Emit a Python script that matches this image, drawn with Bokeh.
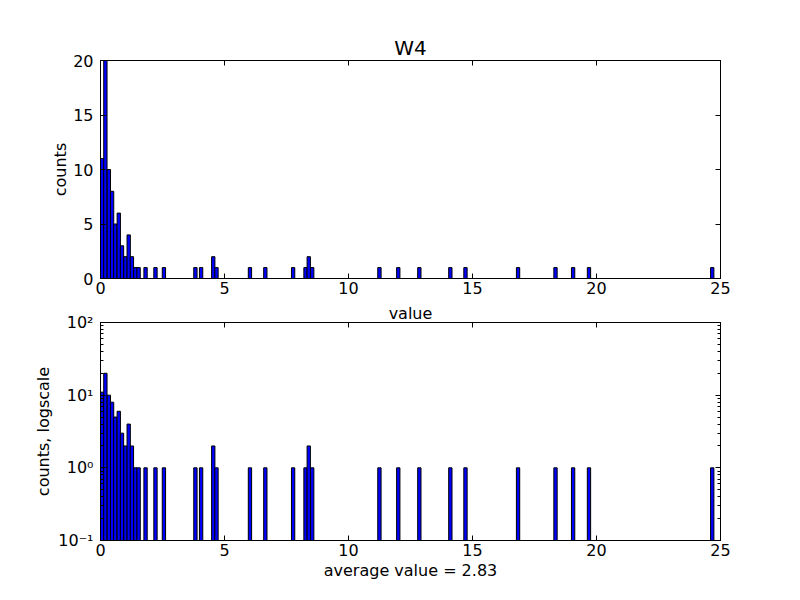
from bokeh.plotting import figure
from bokeh.layouts import column
from bokeh.models import (LinearAxis, LogAxis, FixedTicker, Range1d,
                          ColumnDataSource)
from bokeh.embed import file_html
from bokeh.resources import INLINE

# ---------------- data ----------------
title_text = "W4"
x_label_top = "value"
y_label_top = "counts"
y_label_bottom = "counts, logscale"
x_label_bottom = "average value = 2.83"

bin_left = [0.00, 0.13, 0.27, 0.40, 0.53, 0.67, 0.80, 0.94, 1.07, 1.20, 1.34, 1.47,
            1.75, 2.15, 2.49, 3.76, 3.99, 4.48, 4.61, 5.96, 6.58, 7.70, 8.20, 8.33, 8.47,
            11.18, 11.94, 12.79, 14.04, 14.65, 16.77, 18.28, 18.99, 19.63, 24.60]
counts = [11, 20, 10, 8, 5, 6, 3, 2, 4, 2, 1, 1,
          1, 1, 1, 1, 1, 2, 1, 1, 1, 1, 1, 2, 1,
          1, 1, 1, 1, 1, 1, 1, 1, 1, 1]
bin_width = 0.1337

x_ticks = [0, 5, 10, 15, 20, 25]
lin_ticks = [0, 5, 10, 15, 20]
log_ticks = [0.1, 1, 10, 100]
log_minor = [0.2, 0.3, 0.4, 0.5, 0.6, 0.7, 0.8, 0.9,
             2, 3, 4, 5, 6, 7, 8, 9,
             20, 30, 40, 50, 60, 70, 80, 90]
log_tick_labels = {0.1: "10\u207b\u00b9", 1: "10\u2070", 10: "10\u00b9", 100: "10\u00b2"}

x_min, x_max = 0, 25
lin_min, lin_max = 0, 20
log_min, log_max = 0.1, 100

FONT = "DejaVu Sans"

src = ColumnDataSource(dict(
    left=bin_left,
    right=[b + bin_width for b in bin_left],
    top=counts,
))


def axis_style(ax, labels=True):
    ax.axis_line_color = "black"
    ax.axis_line_width = 1
    ax.major_tick_in = 5
    ax.major_tick_out = 0
    ax.minor_tick_in = 3
    ax.minor_tick_out = 0
    ax.major_tick_line_color = "black"
    ax.minor_tick_line_color = "black"
    ax.major_label_text_font = FONT
    ax.axis_label_text_font = FONT
    ax.axis_label_text_font_size = "16px"
    ax.axis_label_text_font_style = "normal"
    ax.axis_label_text_color = "black"
    if labels:
        ax.major_label_text_color = "black"
        ax.major_label_text_font_size = "16px"
    else:
        # mirror axis: tick marks only
        ax.major_label_text_color = None
        ax.major_label_text_font_size = "1px"
        ax.major_label_standoff = 0


def base_style(p):
    p.outline_line_color = "black"
    p.outline_line_width = 1
    p.xgrid.grid_line_color = None
    p.ygrid.grid_line_color = None
    p.background_fill_color = "white"
    p.border_fill_color = "white"


# ---------------- top: linear ----------------
top = figure(width=800, height=300, x_range=Range1d(x_min, x_max),
             y_range=Range1d(lin_min, lin_max),
             output_backend="svg", toolbar_location=None,
             min_border_left=100, min_border_right=80,
             min_border_top=60, min_border_bottom=22)
base_style(top)
top.title.text = title_text
top.title.align = "center"
top.title.text_font = FONT
top.title.text_font_size = "20px"
top.title.text_font_style = "normal"
top.title.text_color = "black"
top.title.standoff = 2

top.quad(left="left", right="right", bottom=lin_min, top="top", source=src,
         fill_color="#0000ff", line_color="black", line_width=1)

top.xaxis.ticker = FixedTicker(ticks=x_ticks)
top.yaxis.ticker = FixedTicker(ticks=lin_ticks)
axis_style(top.xaxis[0])
axis_style(top.yaxis[0])
top.xaxis.minor_tick_line_color = None
top.yaxis.minor_tick_line_color = None
top.xaxis.major_label_standoff = 3
top.yaxis.major_label_standoff = 7
top.yaxis.axis_label = y_label_top
top.yaxis.axis_label_standoff = 0

ax_t = LinearAxis(ticker=FixedTicker(ticks=x_ticks))
axis_style(ax_t, labels=False)
ax_t.minor_tick_line_color = None
top.add_layout(ax_t, "above")
ax_r = LinearAxis(ticker=FixedTicker(ticks=lin_ticks))
axis_style(ax_r, labels=False)
ax_r.minor_tick_line_color = None
top.add_layout(ax_r, "right")

# ---------------- bottom: log ----------------
bot = figure(width=800, height=300, x_range=Range1d(x_min, x_max),
             y_range=Range1d(log_min, log_max), y_axis_type="log",
             output_backend="svg", toolbar_location=None,
             min_border_left=100, min_border_right=80,
             min_border_top=22, min_border_bottom=60)
base_style(bot)
# the x label of the upper panel sits in the gap above the lower panel
bot.title.text = x_label_top
bot.title.align = "center"
bot.title.text_font = FONT
bot.title.text_font_size = "16px"
bot.title.text_font_style = "normal"
bot.title.text_color = "black"
bot.title.standoff = 0

bot.quad(left="left", right="right", bottom=log_min, top="top", source=src,
         fill_color="#0000ff", line_color="black", line_width=1)

bot.xaxis.ticker = FixedTicker(ticks=x_ticks)
bot.yaxis.ticker = FixedTicker(ticks=log_ticks, minor_ticks=log_minor)
axis_style(bot.xaxis[0])
axis_style(bot.yaxis[0])
bot.xaxis.minor_tick_line_color = None
bot.xaxis.major_label_standoff = 3
bot.yaxis.major_label_standoff = 7
bot.yaxis.major_label_overrides = log_tick_labels
bot.yaxis.axis_label = y_label_bottom
bot.yaxis.axis_label_standoff = 2
bot.xaxis.axis_label = x_label_bottom
bot.xaxis.axis_label_standoff = 2

bx_t = LinearAxis(ticker=FixedTicker(ticks=x_ticks))
axis_style(bx_t, labels=False)
bx_t.minor_tick_line_color = None
bot.add_layout(bx_t, "above")
by_r = LogAxis(ticker=FixedTicker(ticks=log_ticks, minor_ticks=log_minor))
axis_style(by_r, labels=False)
bot.add_layout(by_r, "right")

layout = column(top, bot, spacing=0)
open("out.html", "w").write(file_html(layout, INLINE))
